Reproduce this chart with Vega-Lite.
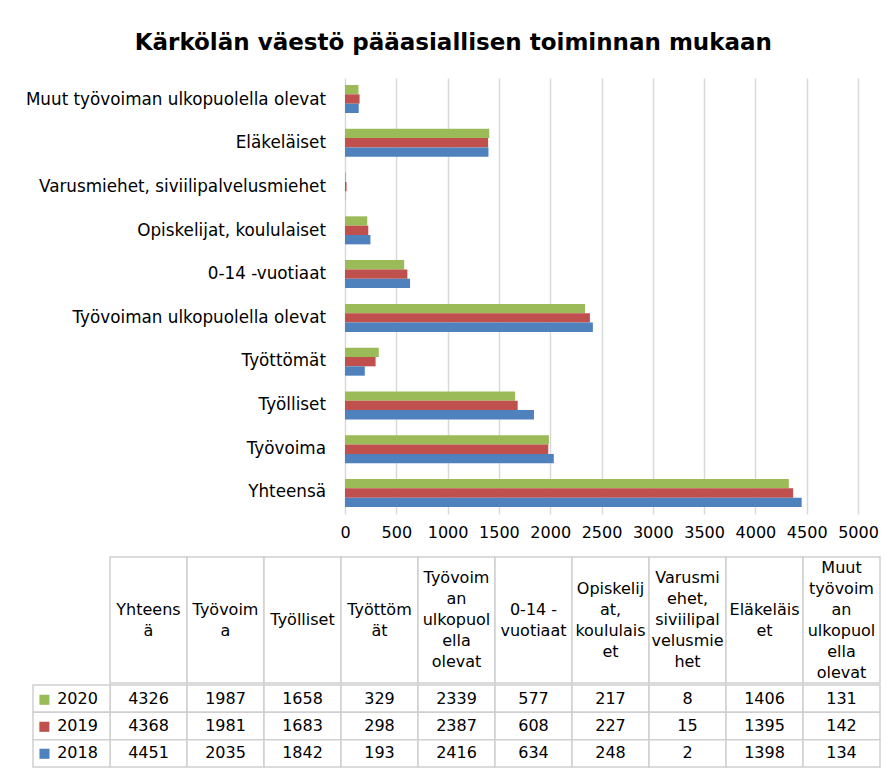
{
  "$schema": "https://vega.github.io/schema/vega-lite/v6.json",
  "padding": {"left": 25, "top": 32, "right": 10, "bottom": 15},
  "title": {"text": "Kärkölän väestö pääasiallisen toiminnan mukaan", "font": "DejaVu Sans", "fontSize": 23, "fontWeight": "bold", "color": "#000000", "anchor": "middle", "offset": 23},
  "config": {
    "font": "DejaVu Sans",
    "view": {"stroke": null},
    "text": {"font": "DejaVu Sans"}
  },
  "datasets": {
    "values": [
      {"category": "Yhteensä", "year": "2020", "value": 4326},
      {"category": "Työvoima", "year": "2020", "value": 1987},
      {"category": "Työlliset", "year": "2020", "value": 1658},
      {"category": "Työttömät", "year": "2020", "value": 329},
      {"category": "Työvoiman ulkopuolella olevat", "year": "2020", "value": 2339},
      {"category": "0-14 -vuotiaat", "year": "2020", "value": 577},
      {"category": "Opiskelijat, koululaiset", "year": "2020", "value": 217},
      {"category": "Varusmiehet, siviilipalvelusmiehet", "year": "2020", "value": 8},
      {"category": "Eläkeläiset", "year": "2020", "value": 1406},
      {"category": "Muut työvoiman ulkopuolella olevat", "year": "2020", "value": 131},
      {"category": "Yhteensä", "year": "2019", "value": 4368},
      {"category": "Työvoima", "year": "2019", "value": 1981},
      {"category": "Työlliset", "year": "2019", "value": 1683},
      {"category": "Työttömät", "year": "2019", "value": 298},
      {"category": "Työvoiman ulkopuolella olevat", "year": "2019", "value": 2387},
      {"category": "0-14 -vuotiaat", "year": "2019", "value": 608},
      {"category": "Opiskelijat, koululaiset", "year": "2019", "value": 227},
      {"category": "Varusmiehet, siviilipalvelusmiehet", "year": "2019", "value": 15},
      {"category": "Eläkeläiset", "year": "2019", "value": 1395},
      {"category": "Muut työvoiman ulkopuolella olevat", "year": "2019", "value": 142},
      {"category": "Yhteensä", "year": "2018", "value": 4451},
      {"category": "Työvoima", "year": "2018", "value": 2035},
      {"category": "Työlliset", "year": "2018", "value": 1842},
      {"category": "Työttömät", "year": "2018", "value": 193},
      {"category": "Työvoiman ulkopuolella olevat", "year": "2018", "value": 2416},
      {"category": "0-14 -vuotiaat", "year": "2018", "value": 634},
      {"category": "Opiskelijat, koululaiset", "year": "2018", "value": 248},
      {"category": "Varusmiehet, siviilipalvelusmiehet", "year": "2018", "value": 2},
      {"category": "Eläkeläiset", "year": "2018", "value": 1398},
      {"category": "Muut työvoiman ulkopuolella olevat", "year": "2018", "value": 134}
    ],
    "cats": [
      {"category": "Yhteensä", "header": "Yhteens\nä"},
      {"category": "Työvoima", "header": "Työvoim\na"},
      {"category": "Työlliset", "header": "Työlliset"},
      {"category": "Työttömät", "header": "Työttöm\nät"},
      {"category": "Työvoiman ulkopuolella olevat", "header": "Työvoim\nan\nulkopuol\nella\nolevat"},
      {"category": "0-14 -vuotiaat", "header": "0-14 -\nvuotiaat"},
      {"category": "Opiskelijat, koululaiset", "header": "Opiskelij\nat,\nkoululais\net"},
      {"category": "Varusmiehet, siviilipalvelusmiehet", "header": "Varusmi\nehet,\nsiviilipal\nvelusmie\nhet"},
      {"category": "Eläkeläiset", "header": "Eläkeläis\net"},
      {"category": "Muut työvoiman ulkopuolella olevat", "header": "Muut\ntyövoim\nan\nulkopuol\nella\nolevat"}
    ],
    "years": [
      {"year": "2020"},
      {"year": "2019"},
      {"year": "2018"}
    ]
  },
  "spacing": 16,
  "vconcat": [
    {
      "spacing": 13,
      "hconcat": [
        {
          "width": 293,
          "height": 436,
          "data": {"name": "cats"},
          "mark": {"type": "text", "align": "right", "baseline": "middle", "fontSize": 16.8, "color": "#000000"},
          "encoding": {
            "y": {"field": "category", "type": "nominal", "axis": null,
                  "sort": ["Muut työvoiman ulkopuolella olevat", "Eläkeläiset", "Varusmiehet, siviilipalvelusmiehet", "Opiskelijat, koululaiset", "0-14 -vuotiaat", "Työvoiman ulkopuolella olevat", "Työttömät", "Työlliset", "Työvoima", "Yhteensä"],
                  "scale": {"paddingInner": 0.36, "paddingOuter": 0.16}},
            "x": {"value": "width"},
            "text": {"field": "category", "type": "nominal"}
          }
        },
        {
          "width": 513,
          "height": 436,
          "data": {"name": "values"},
          "mark": {"type": "bar"},
          "encoding": {
            "y": {"field": "category", "type": "nominal", "axis": null,
                  "sort": ["Muut työvoiman ulkopuolella olevat", "Eläkeläiset", "Varusmiehet, siviilipalvelusmiehet", "Opiskelijat, koululaiset", "0-14 -vuotiaat", "Työvoiman ulkopuolella olevat", "Työttömät", "Työlliset", "Työvoima", "Yhteensä"],
                  "scale": {"paddingInner": 0.36, "paddingOuter": 0.16}},
            "yOffset": {"field": "year", "type": "nominal", "sort": ["2020", "2019", "2018"]},
            "x": {"field": "value", "type": "quantitative",
                  "scale": {"domain": [0, 5000], "nice": false},
                  "axis": {"values": [0, 500, 1000, 1500, 2000, 2500, 3000, 3500, 4000, 4500, 5000], "format": "d", "title": null, "grid": true, "gridColor": "#D9D9D9", "gridWidth": 1.5, "domain": false, "ticks": false, "labelFontSize": 16, "labelColor": "#000000", "labelPadding": 10, "labelFlush": false, "labelOverlap": false}},
            "color": {"field": "year", "type": "nominal", "legend": null,
                      "scale": {"domain": ["2018", "2019", "2020"], "range": ["#4F81BD", "#C0504D", "#9BBB59"]}}
          }
        }
      ]
    },
    {
      "spacing": 0,
      "vconcat": [
        {
          "width": 847,
          "height": 126,
          "data": {"name": "cats"},
          "layer": [
            {
              "mark": {"type": "rect", "fill": "#FFFFFF", "stroke": "#D0D0D0", "strokeWidth": 1.5},
              "encoding": {
                "x": {"field": "category", "type": "nominal", "axis": null,
                      "scale": {"domain": ["_leg", "Yhteensä", "Työvoima", "Työlliset", "Työttömät", "Työvoiman ulkopuolella olevat", "0-14 -vuotiaat", "Opiskelijat, koululaiset", "Varusmiehet, siviilipalvelusmiehet", "Eläkeläiset", "Muut työvoiman ulkopuolella olevat"], "paddingInner": 0, "paddingOuter": 0}}
              }
            },
            {
              "mark": {"type": "text", "align": "center", "baseline": "middle", "fontSize": 16, "lineHeight": 21, "lineBreak": "\n", "color": "#000000",
                       "dy": {"expr": "-(length(split(datum.header, '\\n')) - 1) * 10.5"}},
              "encoding": {
                "x": {"field": "category", "type": "nominal", "axis": null},
                "text": {"field": "header", "type": "nominal"}
              }
            }
          ]
        },
        {
          "width": 847,
          "height": 82,
          "layer": [
            {
              "data": {"name": "values"},
              "mark": {"type": "rect", "fill": "#FFFFFF", "stroke": "#D0D0D0", "strokeWidth": 1.5},
              "encoding": {
                "x": {"field": "category", "type": "nominal", "axis": null,
                      "scale": {"domain": ["_leg", "Yhteensä", "Työvoima", "Työlliset", "Työttömät", "Työvoiman ulkopuolella olevat", "0-14 -vuotiaat", "Opiskelijat, koululaiset", "Varusmiehet, siviilipalvelusmiehet", "Eläkeläiset", "Muut työvoiman ulkopuolella olevat"], "paddingInner": 0, "paddingOuter": 0}},
                "y": {"field": "year", "type": "nominal", "axis": null, "scale": {"domain": ["2020", "2019", "2018"], "paddingInner": 0, "paddingOuter": 0}}
              }
            },
            {
              "data": {"name": "values"},
              "mark": {"type": "text", "align": "center", "baseline": "middle", "fontSize": 16, "color": "#000000"},
              "encoding": {
                "x": {"field": "category", "type": "nominal", "axis": null},
                "y": {"field": "year", "type": "nominal", "axis": null},
                "text": {"field": "value", "type": "quantitative", "format": "d"}
              }
            },
            {
              "data": {"name": "years"},
              "mark": {"type": "rect", "fill": "#FFFFFF", "stroke": "#D0D0D0", "strokeWidth": 1.5},
              "encoding": {
                "x": {"datum": "_leg", "type": "nominal", "axis": null},
                "y": {"field": "year", "type": "nominal", "axis": null}
              }
            },
            {
              "data": {"name": "years"},
              "mark": {"type": "text", "align": "center", "baseline": "middle", "fontSize": 13, "dx": -27, "text": "■"},
              "encoding": {
                "x": {"datum": "_leg", "type": "nominal", "axis": null},
                "y": {"field": "year", "type": "nominal", "axis": null},
                "color": {"field": "year", "type": "nominal", "legend": null,
                          "scale": {"domain": ["2018", "2019", "2020"], "range": ["#4F81BD", "#C0504D", "#9BBB59"]}}
              }
            },
            {
              "data": {"name": "years"},
              "mark": {"type": "text", "align": "center", "baseline": "middle", "fontSize": 16, "dx": 6, "color": "#000000"},
              "encoding": {
                "x": {"datum": "_leg", "type": "nominal", "axis": null},
                "y": {"field": "year", "type": "nominal", "axis": null},
                "text": {"field": "year", "type": "nominal"}
              }
            }
          ]
        }
      ]
    }
  ]
}
